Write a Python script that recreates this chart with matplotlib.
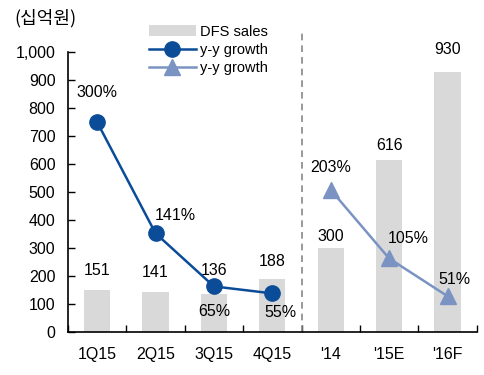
import numpy as np
import matplotlib.pyplot as plt

plt.rcParams['font.family'] = ['Liberation Sans', 'Noto Sans CJK KR', 'DejaVu Sans']

cats = ['1Q15', '2Q15', '3Q15', '4Q15', "'14", "'15E", "'16F"]
sales = [151, 141, 136, 188, 300, 616, 930]
# quarterly y-y growth (%), annual y-y growth (%)
q_growth = [300, 141, 65, 55]
y_growth = [203, 105, 51]

# label offsets in points (dx, dy)
sales_off = [(0, 14), (0, 14), (0, 17), (0, 13), (0, 8), (0, 10), (0, 16)]
q_off = [(0, 21), (14, 13), (0, -18), (6, -14)]
y_off = [(0, 16), (14, 14), (5, 12)]

dark = '#0a4c97'
light = '#7b93c3'
grey = '#d9d9d9'
fs = 11.5

fig = plt.figure(figsize=(4.85, 3.75), dpi=100)
ax = fig.add_axes([0.140, 0.115, 0.843, 0.746])
x = np.arange(len(cats))

ax.bar(x, sales, width=0.45, color=grey, label='DFS sales', zorder=1)
for i, v in enumerate(sales):
    ax.annotate(str(v), (x[i], v), xytext=sales_off[i], textcoords='offset points',
                ha='center', va='center', fontsize=fs)

ax.set_xlim(-0.5, len(cats) - 0.5)
ax.set_ylim(0, 1000)
ax.set_yticks(range(0, 1001, 100))
ax.set_yticklabels(['{:,}'.format(v) for v in range(0, 1001, 100)])
ax.set_xticks(x)
ax.set_xticklabels(cats)
ax.set_xticks(np.arange(-0.5, len(cats)), minor=True)
ax.tick_params(axis='x', which='major', length=0, pad=11, labelsize=fs)
ax.tick_params(axis='x', which='minor', direction='in', length=5, width=1)
ax.tick_params(axis='y', direction='in', length=5, width=1, pad=9, labelsize=fs)
for s in ['top', 'right']:
    ax.spines[s].set_visible(False)
ax.spines['left'].set_linewidth(1.2)
ax.spines['bottom'].set_linewidth(1.2)

ax.plot([3.5, 3.5], [0, 1080], color='#888888', linestyle=(0, (4, 3)), lw=1.2,
        clip_on=False, zorder=2)

ax2 = ax.twinx()
ax2.set_ylim(0, 400)
ax2.axis('off')
ax2.plot(x[:4], q_growth, color=dark, marker='o', markersize=11, lw=1.8,
         label='y-y growth', zorder=3)
ax2.plot(x[4:], y_growth, color=light, marker='^', markersize=11, lw=1.8,
         label='y-y growth', zorder=3)
for i, v in enumerate(q_growth):
    ax2.annotate('{}%'.format(v), (x[i], v), xytext=q_off[i], textcoords='offset points',
                 ha='center', va='center', fontsize=fs)
for i, v in enumerate(y_growth):
    ax2.annotate('{}%'.format(v), (x[4 + i], v), xytext=y_off[i], textcoords='offset points',
                 ha='center', va='center', fontsize=fs)

h1, l1 = ax.get_legend_handles_labels()
h2, l2 = ax2.get_legend_handles_labels()
fig.legend(h1 + h2, l1 + l2, loc='upper left', bbox_to_anchor=(0.295, 0.95),
           frameon=False, fontsize=10.5, handlelength=3.2, labelspacing=0.3,
           handletextpad=0.3, borderaxespad=0)

fig.text(0.03, 0.952, '(십억원)', fontsize=13, ha='left', va='center',
         family=['Noto Sans CJK KR', 'DejaVu Sans'])

fig.savefig('out.png', dpi=100)
